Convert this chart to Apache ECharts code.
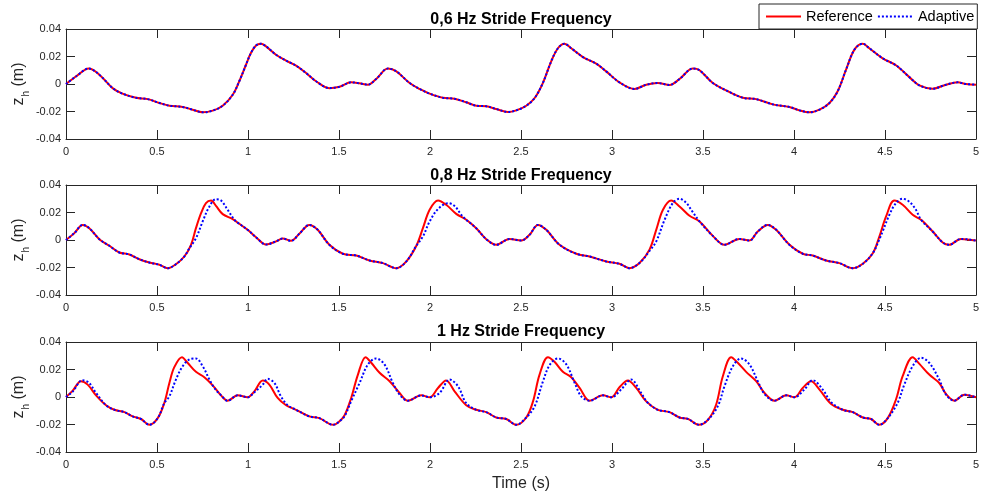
<!DOCTYPE html>
<html><head><meta charset="utf-8">
<script src="https://cdn.jsdelivr.net/npm/echarts@6/dist/echarts.min.js"></script>
<style>html,body{margin:0;padding:0;background:#fff}#c{width:981px;height:496px}</style>
</head><body><div id="c"></div>
<script>
// ---- data ----
const panelTitles = ['0,6 Hz Stride Frequency', '0,8 Hz Stride Frequency', '1 Hz Stride Frequency'];
const seriesNames = ['Reference', 'Adaptive'];
const xMin = 0, xMax = 5, xStep = 0.5;
const yMin = -0.04, yMax = 0.04, yStep = 0.02;
const xName = 'Time (s)';

// 0.6 Hz  [time (s), z_h (m)]
const ref06 = [[0,0],[0.06,0.006],[0.125,0.0112],[0.183,0.0068],[0.256,-0.003],[0.31,-0.007],[0.385,-0.010],[0.449,-0.011],[0.513,-0.0138],[0.568,-0.0158],[0.641,-0.0167],[0.696,-0.0187],[0.751,-0.0206],[0.806,-0.0194],[0.861,-0.0158],[0.916,-0.0078],[0.952,0.002],[0.989,0.014],[1.016,0.0225],[1.044,0.028],[1.071,0.0293],[1.099,0.0274],[1.154,0.0213],[1.209,0.017],[1.264,0.0133],[1.319,0.008],[1.374,0.002],[1.447,-0.003],[1.503,-0.002],[1.567,0.0012],[1.613,0.0005],[1.659,-0.0005],[1.704,0.0036],[1.769,0.0112],[1.815,0.0092],[1.888,0.0007],[1.943,-0.0036],[1.998,-0.007],[2.071,-0.010],[2.135,-0.0107],[2.199,-0.0133],[2.254,-0.0158],[2.309,-0.0162],[2.364,-0.0182],[2.428,-0.0204],[2.474,-0.0192],[2.529,-0.0158],[2.575,-0.0102],[2.620,0.0007],[2.666,0.0165],[2.703,0.026],[2.739,0.0293],[2.776,0.026],[2.840,0.0196],[2.913,0.0148],[2.968,0.0092],[3.041,0.0012],[3.124,-0.0036],[3.188,-0.0005],[3.252,0.0007],[3.316,-0.0007],[3.371,0.0036],[3.444,0.0112],[3.481,0.010],[3.554,0.0007],[3.627,-0.0046],[3.719,-0.010],[3.792,-0.011],[3.883,-0.0148],[3.975,-0.0167],[4.030,-0.0192],[4.085,-0.0206],[4.140,-0.0187],[4.195,-0.0138],[4.240,-0.0053],[4.286,0.0104],[4.332,0.025],[4.378,0.0293],[4.414,0.026],[4.487,0.0187],[4.560,0.0136],[4.634,0.005],[4.689,-0.001],[4.762,-0.0034],[4.835,-0.0005],[4.899,0.0012],[4.945,0],[5,-0.0005]];
const ada06 = [[0,0],[0.06,0.006],[0.125,0.0112],[0.183,0.0068],[0.256,-0.003],[0.31,-0.007],[0.385,-0.010],[0.449,-0.011],[0.513,-0.0138],[0.568,-0.0158],[0.641,-0.0167],[0.696,-0.0187],[0.751,-0.0206],[0.806,-0.0194],[0.861,-0.0158],[0.916,-0.0078],[0.952,0.002],[0.989,0.014],[1.016,0.0225],[1.044,0.028],[1.071,0.0293],[1.099,0.0274],[1.154,0.0213],[1.209,0.017],[1.264,0.0133],[1.319,0.008],[1.374,0.002],[1.447,-0.003],[1.503,-0.002],[1.567,0.0012],[1.613,0.0005],[1.659,-0.0005],[1.704,0.0036],[1.769,0.0112],[1.815,0.0092],[1.888,0.0007],[1.943,-0.0036],[1.998,-0.007],[2.071,-0.010],[2.135,-0.0107],[2.199,-0.0133],[2.254,-0.0158],[2.309,-0.0162],[2.364,-0.0182],[2.428,-0.0204],[2.474,-0.0192],[2.529,-0.0158],[2.575,-0.0102],[2.620,0.0007],[2.666,0.0165],[2.703,0.026],[2.739,0.0293],[2.776,0.026],[2.840,0.0196],[2.913,0.0148],[2.968,0.0092],[3.041,0.0012],[3.124,-0.0036],[3.188,-0.0005],[3.252,0.0007],[3.316,-0.0007],[3.371,0.0036],[3.444,0.0112],[3.481,0.010],[3.554,0.0007],[3.627,-0.0046],[3.719,-0.010],[3.792,-0.011],[3.883,-0.0148],[3.975,-0.0167],[4.030,-0.0192],[4.085,-0.0206],[4.140,-0.0187],[4.195,-0.0138],[4.240,-0.0053],[4.286,0.0104],[4.332,0.025],[4.378,0.0293],[4.414,0.026],[4.487,0.0187],[4.560,0.0136],[4.634,0.005],[4.689,-0.001],[4.762,-0.0034],[4.835,-0.0005],[4.899,0.0012],[4.945,0],[5,-0.0005]];

// 0.8 Hz
const ref08 = [[0,0],[0.046,0.005],[0.092,0.011],[0.128,0.0086],[0.183,0.0006],[0.238,-0.0042],[0.293,-0.0091],[0.348,-0.0105],[0.403,-0.014],[0.458,-0.0164],[0.513,-0.018],[0.559,-0.0205],[0.604,-0.0176],[0.650,-0.012],[0.687,-0.0035],[0.714,0.0086],[0.742,0.0195],[0.769,0.0268],[0.797,0.0287],[0.824,0.0248],[0.861,0.0188],[0.916,0.0152],[0.952,0.0118],[0.998,0.0074],[1.044,0.002],[1.099,-0.0033],[1.154,-0.001],[1.190,0.0011],[1.236,-0.0006],[1.282,0.0045],[1.337,0.011],[1.383,0.0074],[1.447,-0.0035],[1.521,-0.010],[1.595,-0.0113],[1.668,-0.0149],[1.741,-0.0168],[1.815,-0.0205],[1.870,-0.0156],[1.925,-0.0042],[1.961,0.0086],[1.998,0.022],[2.044,0.0287],[2.089,0.0256],[2.144,0.019],[2.199,0.0147],[2.254,0.0086],[2.309,0.0006],[2.364,-0.0035],[2.437,0.0008],[2.501,-0.0004],[2.547,0.0038],[2.593,0.011],[2.639,0.0074],[2.712,-0.0035],[2.804,-0.010],[2.877,-0.012],[2.968,-0.0156],[3.041,-0.0173],[3.096,-0.0205],[3.151,-0.0168],[3.206,-0.007],[3.243,0.0074],[3.280,0.022],[3.325,0.0287],[3.371,0.0244],[3.426,0.0176],[3.481,0.0135],[3.554,0.003],[3.618,-0.0035],[3.700,0.0008],[3.755,-0.0004],[3.801,0.0062],[3.856,0.011],[3.902,0.0074],[3.975,-0.0035],[4.048,-0.010],[4.103,-0.0113],[4.176,-0.0149],[4.249,-0.0168],[4.323,-0.0205],[4.378,-0.0173],[4.433,-0.0096],[4.469,0.0025],[4.506,0.0171],[4.551,0.0287],[4.597,0.0256],[4.652,0.0183],[4.698,0.0147],[4.762,0.0062],[4.817,-0.0018],[4.853,-0.0035],[4.917,0.0008],[5,-0.0004]];
const ada08 = [[0,0],[0.046,0.005],[0.092,0.011],[0.128,0.0086],[0.183,0.0006],[0.238,-0.0042],[0.293,-0.0091],[0.348,-0.0105],[0.403,-0.014],[0.458,-0.0164],[0.513,-0.018],[0.559,-0.0205],[0.604,-0.0176],[0.650,-0.012],[0.678,-0.006],[0.714,0.0013],[0.751,0.0135],[0.788,0.0244],[0.824,0.0297],[0.852,0.0287],[0.888,0.022],[0.925,0.0148],[0.952,0.0118],[0.998,0.0074],[1.044,0.002],[1.099,-0.0033],[1.154,-0.001],[1.190,0.0011],[1.236,-0.0006],[1.282,0.0045],[1.337,0.011],[1.383,0.0074],[1.447,-0.0035],[1.521,-0.010],[1.595,-0.0113],[1.668,-0.0149],[1.741,-0.0168],[1.815,-0.0205],[1.870,-0.0156],[1.925,-0.0042],[1.961,0.0025],[1.998,0.0135],[2.044,0.0225],[2.099,0.0268],[2.135,0.0248],[2.172,0.0183],[2.199,0.0147],[2.254,0.0086],[2.309,0.0006],[2.364,-0.0035],[2.437,0.0008],[2.501,-0.0004],[2.547,0.0038],[2.593,0.011],[2.639,0.0074],[2.712,-0.0035],[2.804,-0.010],[2.877,-0.012],[2.968,-0.0156],[3.041,-0.0173],[3.096,-0.0205],[3.151,-0.0168],[3.206,-0.008],[3.243,-0.001],[3.289,0.0147],[3.334,0.0268],[3.371,0.030],[3.408,0.027],[3.440,0.021],[3.481,0.0135],[3.554,0.003],[3.618,-0.0035],[3.700,0.0008],[3.755,-0.0004],[3.801,0.0062],[3.856,0.011],[3.902,0.0074],[3.975,-0.0035],[4.048,-0.010],[4.103,-0.0113],[4.176,-0.0149],[4.249,-0.0168],[4.323,-0.0205],[4.378,-0.0173],[4.433,-0.0096],[4.469,0.0005],[4.487,0.0062],[4.524,0.0183],[4.560,0.0268],[4.597,0.030],[4.634,0.0278],[4.670,0.022],[4.698,0.0147],[4.762,0.0062],[4.817,-0.0018],[4.853,-0.0035],[4.917,0.0008],[5,-0.0004]];

// 1 Hz
const ref10 = [[0,0],[0.037,0.0046],[0.082,0.0115],[0.119,0.009],[0.165,0.0012],[0.220,-0.006],[0.266,-0.0093],[0.321,-0.011],[0.366,-0.0141],[0.412,-0.016],[0.458,-0.0202],[0.504,-0.0154],[0.540,-0.0044],[0.568,0.0102],[0.595,0.0217],[0.637,0.029],[0.668,0.0249],[0.714,0.0183],[0.760,0.0144],[0.806,0.0085],[0.852,0.0012],[0.888,-0.0027],[0.943,0.0012],[0.998,-0.0002],[1.035,0.0041],[1.081,0.012],[1.117,0.009],[1.163,-0.0007],[1.209,-0.006],[1.264,-0.0093],[1.337,-0.0141],[1.392,-0.0154],[1.447,-0.0195],[1.470,-0.0202],[1.500,-0.018],[1.530,-0.0135],[1.567,-0.0007],[1.604,0.0163],[1.646,0.029],[1.677,0.0249],[1.723,0.0176],[1.778,0.0115],[1.833,0.0029],[1.879,-0.0027],[1.952,0.0012],[1.998,-0.0002],[2.044,0.0066],[2.089,0.012],[2.135,0.0041],[2.199,-0.006],[2.254,-0.0093],[2.309,-0.011],[2.364,-0.0149],[2.419,-0.016],[2.474,-0.0202],[2.529,-0.0149],[2.566,-0.0032],[2.602,0.0163],[2.648,0.029],[2.684,0.0256],[2.730,0.0183],[2.776,0.0144],[2.822,0.0066],[2.877,-0.0027],[2.950,0.0012],[2.996,-0.0002],[3.041,0.0071],[3.087,0.012],[3.133,0.0066],[3.188,-0.0032],[3.252,-0.0093],[3.316,-0.011],[3.371,-0.0149],[3.417,-0.0159],[3.477,-0.0202],[3.527,-0.0166],[3.572,-0.0056],[3.609,0.0151],[3.655,0.029],[3.691,0.0249],[3.737,0.0183],[3.792,0.0115],[3.838,0.0029],[3.893,-0.0027],[3.957,0.0012],[4.003,-0.0002],[4.048,0.0066],[4.094,0.0115],[4.140,0.0054],[4.204,-0.0051],[4.268,-0.0093],[4.323,-0.011],[4.378,-0.0149],[4.423,-0.016],[4.469,-0.0202],[4.515,-0.0154],[4.560,-0.002],[4.597,0.0151],[4.652,0.029],[4.689,0.0241],[4.743,0.0163],[4.798,0.0102],[4.835,0.0022],[4.881,-0.0027],[4.936,0.0017],[5,-0.0002]];
const ada10 = [[0,0],[0.037,0.004],[0.090,0.0122],[0.125,0.0105],[0.165,0.003],[0.220,-0.006],[0.266,-0.0093],[0.321,-0.011],[0.366,-0.0141],[0.412,-0.016],[0.458,-0.0202],[0.504,-0.0154],[0.540,-0.0044],[0.568,0.0005],[0.604,0.0127],[0.641,0.0224],[0.678,0.0273],[0.714,0.028],[0.751,0.0224],[0.788,0.0127],[0.815,0.0066],[0.852,0.0012],[0.888,-0.0027],[0.943,0.0012],[0.998,-0.0002],[1.035,0.0035],[1.081,0.009],[1.108,0.0132],[1.145,0.0102],[1.181,0.0005],[1.218,-0.006],[1.264,-0.0093],[1.337,-0.0141],[1.392,-0.0154],[1.447,-0.0195],[1.470,-0.0202],[1.500,-0.018],[1.530,-0.0141],[1.567,-0.003],[1.613,0.0102],[1.659,0.0237],[1.704,0.028],[1.750,0.0237],[1.796,0.0102],[1.833,0.0017],[1.879,-0.0027],[1.952,0.0012],[1.998,-0.0002],[2.053,0.003],[2.108,0.0127],[2.154,0.0078],[2.199,-0.0045],[2.254,-0.0093],[2.309,-0.011],[2.364,-0.0149],[2.419,-0.016],[2.474,-0.0202],[2.529,-0.0149],[2.575,-0.0068],[2.621,0.0115],[2.657,0.0232],[2.703,0.028],[2.749,0.0237],[2.795,0.0102],[2.831,0.0005],[2.877,-0.0027],[2.950,0.0012],[2.996,-0.0002],[3.050,0.0054],[3.105,0.0127],[3.160,0.003],[3.195,-0.004],[3.252,-0.0093],[3.316,-0.011],[3.371,-0.0149],[3.417,-0.0159],[3.477,-0.0202],[3.527,-0.0166],[3.581,-0.0068],[3.618,0.0078],[3.664,0.0224],[3.709,0.028],[3.755,0.0237],[3.801,0.0115],[3.838,0.0022],[3.893,-0.0027],[3.957,0.0012],[4.003,-0.0002],[4.057,0.0054],[4.103,0.0122],[4.158,0.0054],[4.204,-0.0037],[4.268,-0.0093],[4.323,-0.011],[4.378,-0.0149],[4.423,-0.016],[4.469,-0.0202],[4.515,-0.0154],[4.569,-0.0044],[4.606,0.009],[4.652,0.0224],[4.698,0.0285],[4.743,0.0249],[4.798,0.0127],[4.835,0.0017],[4.881,-0.0027],[4.936,0.0017],[5,-0.0002]];

const panels = [[ref06, ada06], [ref08, ada08], [ref10, ada10]];

// ---- layout / style ----
const FONT = 'Liberation Sans, Arial, Helvetica, sans-serif';
const AX = '#262626';
const gridTops = [29, 185, 342];
const gridH = 110;
const titleTops = [12, 168, 324];

const chart = echarts.init(document.getElementById('c'), null, {renderer: 'canvas'});
const grid = [], xAxis = [], yAxis = [], series = [], title = [];
panels.forEach((p, i) => {
  grid.push({left: 66, right: 5, top: gridTops[i], height: gridH, containLabel: false, outerBoundsMode: 'none'});
  title.push({text: panelTitles[i], left: 521, top: titleTops[i], textAlign: 'center', padding: 0,
    textStyle: {fontSize: 16, fontWeight: 'bold', color: '#000', fontFamily: FONT}});
  const axLine = {show: true, onZero: false, lineStyle: {color: AX, width: 1}};
  const tick = {show: true, inside: true, length: 9, lineStyle: {color: AX, width: 1}};
  const xb = {gridIndex: i, type: 'value', min: xMin, max: xMax, interval: xStep, position: 'bottom',
    axisLine: axLine, axisTick: tick, splitLine: {show: false},
    axisLabel: {color: AX, fontSize: 11, margin: 7, fontFamily: FONT}};
  if (i === 2) {
    xb.name = xName; xb.nameLocation = 'middle'; xb.nameGap = 24; xb.nameMoveOverlap = false;
    xb.nameTextStyle = {fontSize: 16, color: AX, fontFamily: FONT};
  }
  xAxis.push(xb);
  xAxis.push({gridIndex: i, type: 'value', min: xMin, max: xMax, interval: xStep, position: 'top',
    axisLine: axLine, axisTick: tick, splitLine: {show: false}, axisLabel: {show: false}});
  yAxis.push({gridIndex: i, type: 'value', min: yMin, max: yMax, interval: yStep, position: 'left',
    axisLine: axLine, axisTick: tick, splitLine: {show: false},
    axisLabel: {color: AX, fontSize: 11, margin: 5, fontFamily: FONT},
    name: '{z|z}{h|h}{m| (m)}', nameLocation: 'middle', nameRotate: 90, nameGap: 35, nameMoveOverlap: false,
    nameTextStyle: {color: AX, fontFamily: FONT, rich: {
      z: {fontSize: 16, color: AX, fontFamily: FONT, verticalAlign: 'top'},
      h: {fontSize: 10, color: AX, fontFamily: FONT, verticalAlign: 'top', padding: [10, 0, 0, 1]},
      m: {fontSize: 16, color: AX, fontFamily: FONT, verticalAlign: 'top'}
    }}});
  yAxis.push({gridIndex: i, type: 'value', min: yMin, max: yMax, interval: yStep, position: 'right',
    axisLine: axLine, axisTick: tick, splitLine: {show: false}, axisLabel: {show: false}});
  series.push({name: seriesNames[0], type: 'line', xAxisIndex: 2 * i, yAxisIndex: 2 * i, data: p[0],
    symbol: 'none', smooth: 0.35, lineStyle: {color: '#ff0000', width: 2}, itemStyle: {color: '#ff0000'}, z: 2});
  series.push({name: seriesNames[1], type: 'line', xAxisIndex: 2 * i, yAxisIndex: 2 * i, data: p[1],
    symbol: 'none', smooth: 0.35, lineStyle: {color: '#0000ff', width: 2, type: 'dotted'}, itemStyle: {color: '#0000ff'}, z: 3});
});

chart.setOption({
  animation: false,
  backgroundColor: '#fff',
  title, grid, xAxis, yAxis, series,
  legend: {data: seriesNames, left: 759, top: 4, itemWidth: 35, itemHeight: 14, itemGap: 4,
    padding: [5, 3, 5, 6], borderColor: AX, borderWidth: 1, backgroundColor: '#fff',
    itemStyle: {opacity: 0},
    textStyle: {fontSize: 14.5, color: '#000', fontFamily: FONT}}
});
</script></body></html>
